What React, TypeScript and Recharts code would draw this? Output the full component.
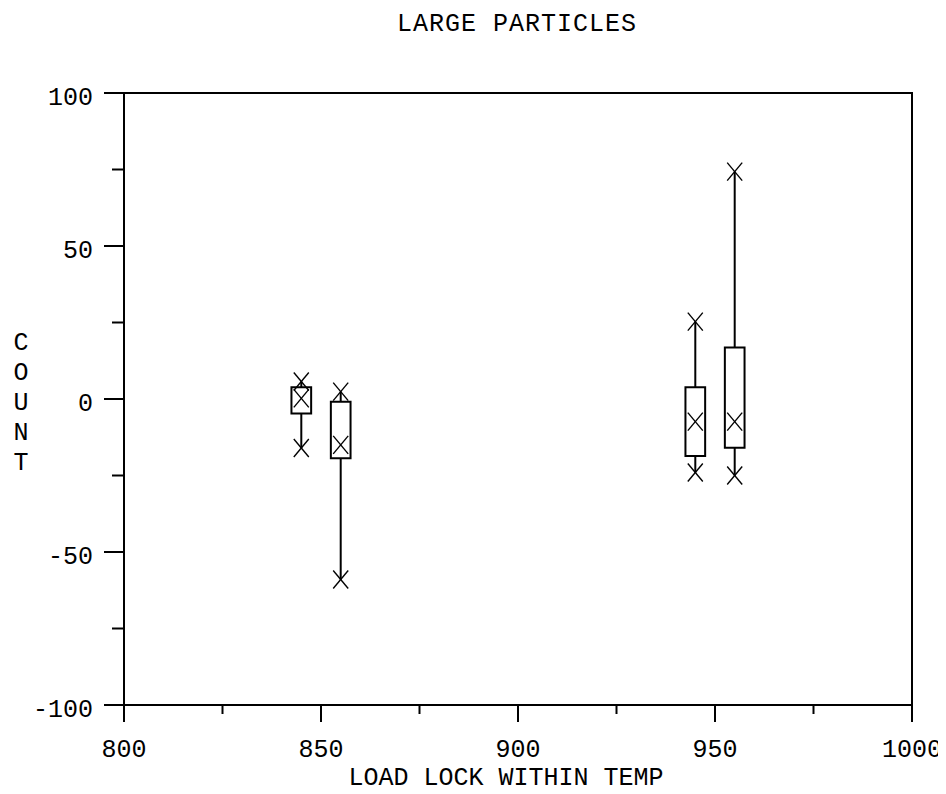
import React from 'react';
import {
  ComposedChart,
  XAxis,
  YAxis,
  Scatter,
  ReferenceArea,
  ReferenceLine,
  Customized,
} from 'recharts';

// ---- data ----
const temps = [845, 855, 945, 955];
const minVals = [-16, -59, -24, -25];
const q1Vals = [-4.7, -19.4, -18.6, -15.9];
const meanVals = [0.2, -15, -7.4, -7.4];
const q3Vals = [3.8, -0.9, 3.8, 16.8];
const maxVals = [5.7, 2.4, 25.3, 74.3];

const xTicks = [800, 825, 850, 875, 900, 925, 950, 975, 1000];
const xTickLabels = ['800', '', '850', '', '900', '', '950', '', '1000'];
const yTicks = [-100, -75, -50, -25, 0, 25, 50, 75, 100];
const yTickLabels = ['-100', '', '-50', '', '0', '', '50', '', '100'];

const TITLE = 'LARGE PARTICLES';
const X_TITLE = 'LOAD LOCK WITHIN TEMP';
const Y_TITLE = 'COUNT';

// ---- styles ----
const FONT = '"Liberation Mono", "DejaVu Sans Mono", monospace';
const FONT_SIZE = 25;
const BOX_HALF = 2.5;
const INK = '#000';

const markerData = temps.flatMap((t, i) => [
  { x: t, y: minVals[i] },
  { x: t, y: meanVals[i] },
  { x: t, y: maxVals[i] },
]);

const XMark = (props: any) => {
  const { cx, cy } = props;
  if (cx == null || cy == null) return null;
  return (
    <g stroke={INK} strokeWidth={1.4}>
      <line x1={cx - 7.5} y1={cy - 9} x2={cx + 7.5} y2={cy + 9} />
      <line x1={cx - 7.5} y1={cy + 9} x2={cx + 7.5} y2={cy - 9} />
    </g>
  );
};

const YTick = (props: any) => {
  const { x, y, payload } = props;
  const i = yTicks.indexOf(payload.value);
  const label = yTickLabels[i];
  const len = label ? 20 : 12;
  return (
    <g>
      <line x1={x} x2={x - len} y1={y} y2={y} stroke={INK} strokeWidth={2} />
      {label ? (
        <text
          x={x - 31}
          y={y + 12}
          textAnchor="end"
          fontFamily={FONT}
          fontSize={FONT_SIZE}
          fill={INK}
        >
          {label}
        </text>
      ) : null}
    </g>
  );
};

const XTick = (props: any) => {
  const { x, y, payload } = props;
  const i = xTicks.indexOf(payload.value);
  const label = xTickLabels[i];
  const len = label ? 17 : 9;
  return (
    <g>
      <line x1={x} x2={x} y1={y} y2={y + len} stroke={INK} strokeWidth={2} />
      {label ? (
        <text
          x={x}
          y={y + 52}
          textAnchor="middle"
          fontFamily={FONT}
          fontSize={FONT_SIZE}
          fill={INK}
        >
          {label}
        </text>
      ) : null}
    </g>
  );
};

const Titles = () => (
  <g fill={INK} fontFamily={FONT} fontSize={FONT_SIZE}>
    <text x={509} y={23} textAnchor="middle" letterSpacing={1}>
      {TITLE}
    </text>
    <text x={498} y={777} textAnchor="middle">
      {X_TITLE}
    </text>
    {Y_TITLE.split('').map((ch, i) => (
      <text key={i} x={13} y={342 + i * 30} textAnchor="middle">
        {ch}
      </text>
    ))}
  </g>
);

export default function App() {
  return (
    <div style={{ width: 938, height: 786 }}>
      <ComposedChart
        width={938}
        height={786}
        margin={{ top: 85, right: 34, bottom: 0, left: 0 }}
        data={markerData}
      >
        <XAxis
          dataKey="x"
          type="number"
          domain={[800, 1000]}
          ticks={xTicks}
          tick={<XTick />}
          tickLine={false}
          tickSize={0}
          tickMargin={0}
          height={89}
          axisLine={{ stroke: INK, strokeWidth: 2 }}
          allowDataOverflow
          interval={0}
        />
        <YAxis
          dataKey="y"
          type="number"
          domain={[-100, 100]}
          ticks={yTicks}
          tick={<YTick />}
          tickLine={false}
          tickSize={0}
          tickMargin={0}
          width={116}
          axisLine={{ stroke: INK, strokeWidth: 2 }}
          allowDataOverflow
          interval={0}
        />
        <ReferenceArea
          x1={800}
          x2={1000}
          y1={-100}
          y2={100}
          fill="none"
          fillOpacity={0}
          stroke={INK}
          strokeWidth={2}
          ifOverflow="visible"
        />
        {temps.map((t, i) => (
          <ReferenceArea
            key={'box' + i}
            x1={t - BOX_HALF}
            x2={t + BOX_HALF}
            y1={q1Vals[i]}
            y2={q3Vals[i]}
            fill="none"
            fillOpacity={0}
            stroke={INK}
            strokeWidth={2}
            strokeOpacity={1}
            ifOverflow="visible"
          />
        ))}
        {temps.map((t, i) => (
          <ReferenceLine
            key={'up' + i}
            segment={[
              { x: t, y: q3Vals[i] },
              { x: t, y: maxVals[i] },
            ]}
            stroke={INK}
            strokeWidth={2}
            ifOverflow="visible"
          />
        ))}
        {temps.map((t, i) => (
          <ReferenceLine
            key={'lo' + i}
            segment={[
              { x: t, y: q1Vals[i] },
              { x: t, y: minVals[i] },
            ]}
            stroke={INK}
            strokeWidth={2}
            ifOverflow="visible"
          />
        ))}
        <Scatter
          data={markerData}
          dataKey="y"
          shape={<XMark />}
          isAnimationActive={false}
        />
        <Customized component={Titles} />
      </ComposedChart>
    </div>
  );
}
